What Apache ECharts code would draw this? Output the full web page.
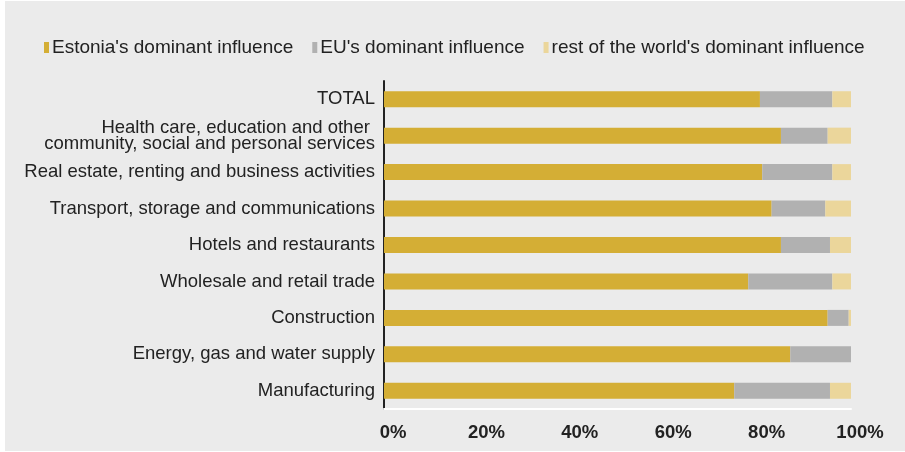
<!DOCTYPE html>
<html>
<head>
<meta charset="utf-8">
<script src="https://cdn.jsdelivr.net/npm/echarts@6/dist/echarts.min.js"></script>
<style>
  html, body { margin: 0; padding: 0; background: #fff; }
  #main { width: 905px; height: 452px; }
</style>
</head>
<body>
<div id="main"></div>
<script>
// sectors, top to bottom
var sectors = [
    'TOTAL',
    'Health care, education and other \ncommunity, social and personal services',
    'Real estate, renting and business activities',
    'Transport, storage and communications',
    'Hotels and restaurants',
    'Wholesale and retail trade',
    'Construction',
    'Energy, gas and water supply',
    'Manufacturing'
];
var estonia = [80.5, 85, 81, 83, 85, 78, 95, 87, 75];
var eu      = [15.5, 10, 15, 11.5, 10.5, 18, 4.5, 13, 20.5];
var rest    = [4, 5, 4, 5.5, 4.5, 4, 0.5, 0, 4.5];
var seriesNames = ["Estonia's dominant influence", "EU's dominant influence", "rest of the world's dominant influence"];
var colors = ['#d4ae35', '#b1b1b1', '#ebd69b'];

var font = 'Liberation Sans, Arial, sans-serif';
var myChart = echarts.init(document.getElementById('main'));

function bar(i, data) {
    return {
        name: seriesNames[i],
        type: 'bar',
        stack: 'all',
        barWidth: 16,
        data: data,
        itemStyle: { color: colors[i] },
        emphasis: { disabled: true }
    };
}

var option = {
    backgroundColor: '#fff',
    animation: false,
    textStyle: { fontFamily: font },
    graphic: [{
        type: 'rect',
        z: -10,
        shape: { x: 5, y: 1, width: 900, height: 450 },
        style: { fill: '#ebebeb' }
    }],
    legend: {
        top: 33,
        left: 39,
        icon: 'rect',
        itemWidth: 5,
        itemHeight: 11,
        itemGap: 19,
        textStyle: { fontSize: 19, color: '#222', fontFamily: font, padding: [0, 0, 0, -2] },
        data: seriesNames
    },
    grid: { left: 384, right: 54, top: 81, bottom: 43, containLabel: false },
    xAxis: {
        type: 'value',
        min: 0,
        max: 100,
        interval: 20,
        axisLine: { show: true, lineStyle: { color: '#fff', width: 2 } },
        axisTick: { show: false },
        splitLine: { show: false },
        axisLabel: {
            formatter: '{value}%',
            fontSize: 18.5,
            fontWeight: 'bold',
            color: '#222',
            margin: 14,
            padding: [0, 0, 0, 18]
        }
    },
    yAxis: {
        type: 'category',
        inverse: true,
        data: sectors,
        axisLine: { show: true, lineStyle: { color: '#222', width: 2 } },
        axisTick: { show: false },
        axisLabel: {
            fontSize: 18.5,
            color: '#222',
            margin: 9,
            lineHeight: 16
        }
    },
    series: [bar(0, estonia), bar(1, eu), bar(2, rest)]
};
myChart.setOption(option);
</script>
</body>
</html>
